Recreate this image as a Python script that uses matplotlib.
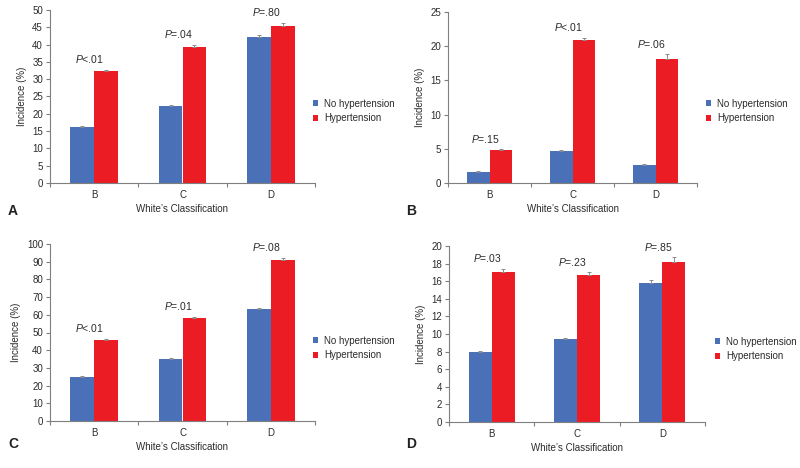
import matplotlib.pyplot as plt
import numpy as np

plt.rcParams["font.family"] = ["Liberation Sans", "DejaVu Sans"]
plt.rcParams["mathtext.fontset"] = "custom"
plt.rcParams["mathtext.it"] = "Liberation Sans:italic"
plt.rcParams["mathtext.rm"] = "Liberation Sans"

classes = ["B", "C", "D"]
series_names = ["No hypertension", "Hypertension"]
blue = "#4a71b8"
red = "#ec1c24"

# panel A
a_no = [16.3, 22.3, 42.2]
a_hyp = [32.4, 39.4, 45.5]
a_no_err = [0.3, 0.3, 0.5]
a_hyp_err = [0.4, 0.6, 0.8]
a_p = ["<.01", "=.04", "=.80"]

# panel B
b_no = [1.6, 4.7, 2.6]
b_hyp = [4.8, 20.9, 18.2]
b_no_err = [0.1, 0.1, 0.2]
b_hyp_err = [0.1, 0.3, 0.6]
b_p = ["=.15", "<.01", "=.06"]

# panel C
c_no = [25.0, 35.3, 63.3]
c_hyp = [45.8, 58.2, 91.0]
c_no_err = [0.4, 0.5, 0.8]
c_hyp_err = [0.5, 0.8, 1.0]
c_p = ["<.01", "=.01", "=.08"]

# panel D
d_no = [7.9, 9.4, 15.8]
d_hyp = [17.1, 16.7, 18.2]
d_no_err = [0.2, 0.2, 0.3]
d_hyp_err = [0.3, 0.3, 0.5]
d_p = ["=.03", "=.23", "=.85"]

W, H = 800, 468
fig = plt.figure(figsize=(8, 4.68), dpi=100)
txt = "#2b2b2b"


def px_axes(left, top, right, bottom):
    return fig.add_axes([left / W, 1 - bottom / H, (right - left) / W, (bottom - top) / H])


def panel(box, no, hyp, no_err, hyp_err, pvals, ymax, ystep, letter, letter_xy, leg_xy):
    ax = px_axes(*box)
    x = np.arange(len(classes))
    w = 0.27
    err_kw = dict(ecolor="#8c8c8c", elinewidth=0.7, capsize=1.5, capthick=0.7)
    ax.bar(x - w / 2, no, w, color=blue, label=series_names[0],
           yerr=[np.zeros(3), no_err], error_kw=err_kw)
    ax.bar(x + w / 2, hyp, w, color=red, label=series_names[1],
           yerr=[np.zeros(3), hyp_err], error_kw=err_kw)
    for i in range(len(classes)):
        top = max(no[i] + no_err[i], hyp[i] + hyp_err[i])
        ax.annotate(r"$\mathit{P}$" + pvals[i], (x[i] - 0.05, top),
                    xytext=(0, 3.5), textcoords="offset points",
                    ha="center", va="bottom", fontsize=7.5, color=txt)
    ax.set_xlim(-0.5, 2.5)
    ax.set_ylim(0, ymax)
    ax.set_yticks(np.arange(0, ymax + ystep / 2, ystep))
    ax.set_xticks(x)
    ax.set_xticklabels(classes)
    ax.set_xticks([-0.5, 0.5, 1.5, 2.5], minor=True)
    ax.tick_params(axis="x", which="major", length=0, pad=5)
    ax.tick_params(axis="x", which="minor", length=3, color="#7f7f7f", width=0.8)
    ax.tick_params(axis="y", length=3, color="#7f7f7f", width=0.8, pad=2)
    ax.tick_params(labelsize=7, labelcolor=txt)
    for s in ["top", "right"]:
        ax.spines[s].set_visible(False)
    for s in ["left", "bottom"]:
        ax.spines[s].set_color("#7f7f7f")
        ax.spines[s].set_linewidth(0.8)
    ax.set_ylabel("Incidence (%)", fontsize=7, color=txt, labelpad=4)
    ax.set_xlabel("White\u2019s Classification", fontsize=7, color=txt, labelpad=3)
    ax.legend(loc="center left", bbox_to_anchor=(leg_xy[0] / W, 1 - leg_xy[1] / H),
              bbox_transform=fig.transFigure, frameon=False, fontsize=7,
              borderpad=0, borderaxespad=0,
              handlelength=0.55, handleheight=0.55, handletextpad=0.6,
              labelspacing=0.45, labelcolor=txt)
    fig.text(letter_xy[0] / W, 1 - letter_xy[1] / H, letter, fontsize=10,
             fontweight="bold", ha="left", va="center", color="#222222")


panel((50, 10, 315, 183), a_no, a_hyp, a_no_err, a_hyp_err, a_p, 50, 5, "A", (8, 211), (313, 111))
panel((448, 12, 697, 183), b_no, b_hyp, b_no_err, b_hyp_err, b_p, 25, 5, "B", (406, 211), (706, 111))
panel((50, 244, 315, 421), c_no, c_hyp, c_no_err, c_hyp_err, c_p, 100, 10, "C", (8, 444), (313, 348))
panel((449, 246, 705, 422), d_no, d_hyp, d_no_err, d_hyp_err, d_p, 20, 2, "D", (406, 444), (715, 349))

fig.savefig("out.png", dpi=100)
